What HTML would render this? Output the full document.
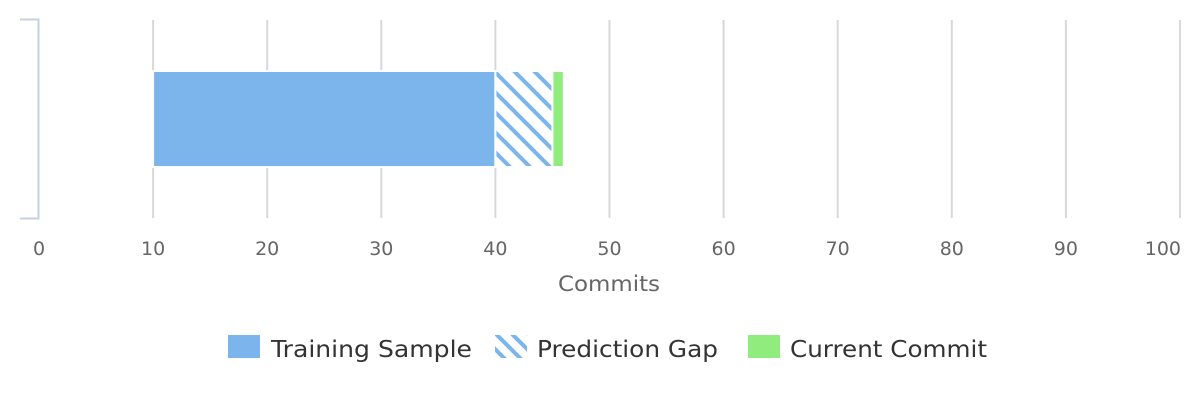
<!DOCTYPE html>
<html><head><meta charset="utf-8"><style>
html,body{margin:0;padding:0;background:#fff;}
svg{display:block;font-family:"DejaVu Sans","Liberation Sans",sans-serif;}
</style></head><body>
<svg id="chart" width="1200" height="400" viewBox="0 0 1200 400">
<defs>
<pattern id="hatch" patternUnits="userSpaceOnUse" width="20" height="20" patternTransform="translate(495,72)">
<path d="M-5,-5 L25,25 M-5,15 L5,25 M15,-5 L25,5" stroke="#7cb5ec" stroke-width="4"/>
</pattern>
<pattern id="hatch2" patternUnits="userSpaceOnUse" width="16" height="16" patternTransform="translate(497,335)">
<path d="M-4,-4 L20,20 M-4,12 L4,20 M12,-4 L20,4" stroke="#7cb5ec" stroke-width="4"/>
</pattern>
</defs>
<g id="grid"></g>
<path d="M20,19.5 H38.5 V218.5 H20" fill="none" stroke="#c4d2e2" stroke-width="2"/>
<g id="bars"></g>
<g id="ticks"></g>
<text x="558" y="291" font-size="21" fill="#666" textLength="102" lengthAdjust="spacingAndGlyphs">Commits</text>
<g>
<g>
<rect x="228" y="335" width="32" height="23" fill="#7cb5ec"/>
<text x="271" y="357" font-size="23" fill="#333" textLength="201" lengthAdjust="spacingAndGlyphs">Training Sample</text></g>
<g>
<rect x="495" y="335" width="32" height="23" fill="url(#hatch2)"/>
<text x="537" y="357" font-size="23" fill="#333" textLength="181" lengthAdjust="spacingAndGlyphs">Prediction Gap</text></g>
<g>
<rect x="748" y="335" width="32" height="23" fill="#90ed7d"/>
<text x="790" y="357" font-size="23" fill="#333" textLength="197" lengthAdjust="spacingAndGlyphs">Current Commit</text></g>
</g>
</svg>
<script>
const tickValues = [0,10,20,30,40,50,60,70,80,90,100];
const seriesNames = ["Training Sample","Prediction Gap","Current Commit"];
const seriesStarts = [10,40,45];
const seriesEnds = [40,45,46];
const NS="http://www.w3.org/2000/svg";
const x0=39, x1=1180, xmin=0, xmax=100;
function xs(v){return x0+(v-xmin)/(xmax-xmin)*(x1-x0);}
const grid=document.getElementById('grid'), ticks=document.getElementById('ticks'), bars=document.getElementById('bars');
tickValues.forEach((v,i)=>{
  if(v>xmin){
    const l=document.createElementNS(NS,'line');
    l.setAttribute('x1',xs(v));l.setAttribute('x2',xs(v));
    l.setAttribute('y1',20);l.setAttribute('y2',218);
    l.setAttribute('stroke','#d8d8d8');l.setAttribute('stroke-width',2);
    
    
    grid.appendChild(l);
  }
  const t=document.createElementNS(NS,'text');
  const last = i===tickValues.length-1;
  t.setAttribute('x', last ? Math.min(xs(v)+19,1181) : xs(v));
  t.setAttribute('y',255);
  t.setAttribute('text-anchor', last ? 'end' : 'middle');
  t.setAttribute('font-size',19);t.setAttribute('fill','#666');
  t.textContent=v;
  
  
  ticks.appendChild(t);
});
const fills=['#7cb5ec','url(#hatch)','#90ed7d'];
seriesNames.forEach((n,i)=>{
  const r=document.createElementNS(NS,'rect');
  const a=xs(seriesStarts[i]), b=xs(seriesEnds[i]);
  r.setAttribute('x',a);r.setAttribute('y',71);
  r.setAttribute('width',Math.max(0,b-a));r.setAttribute('height',96);
  r.setAttribute('fill',fills[i]);r.setAttribute('stroke','#fff');r.setAttribute('stroke-width',2);
  
  
  bars.appendChild(r);
});
</script>
</body></html>
